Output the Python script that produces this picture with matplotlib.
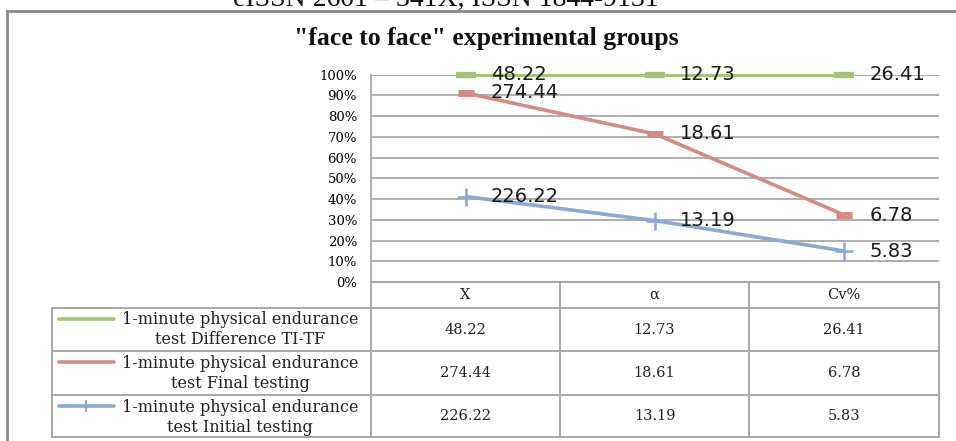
import numpy as np
import matplotlib
matplotlib.use("Agg")
import matplotlib.pyplot as plt
from matplotlib.lines import Line2D

# data
categories = ["X", "α", "Cv%"]
series_names = [
    "1-minute physical endurance\ntest Difference TI-TF",
    "1-minute physical endurance\ntest Final testing",
    "1-minute physical endurance\ntest Initial testing",
]
difference = [48.22, 12.73, 26.41]
final_testing = [274.44, 18.61, 6.78]
initial_testing = [226.22, 13.19, 5.83]
y_ticks = [0, 10, 20, 30, 40, 50, 60, 70, 80, 90, 100]

W, H = 956, 441
GREEN = "#A5C47A"
RED = "#D38A88"
BLUE = "#8DA7D6"
GRID = "#A8A8A8"


def fx(px):
    return px / W


def fy(py):
    return 1 - py / H


fig = plt.figure(figsize=(W / 100, H / 100), dpi=100)

# outer frame (page border)
frame = dict(color="#8A8A8A", lw=2.0, transform=fig.transFigure)
fig.add_artist(Line2D([fx(7), fx(7)], [fy(11), fy(445)], **frame))
fig.add_artist(Line2D([fx(7), fx(960)], [fy(11), fy(11)], **frame))

# cut-off journal header at top
fig.text(fx(446), fy(6), "eISSN 2601 – 341X, ISSN 1844-9131", ha="center", va="baseline",
         family="Liberation Serif", fontsize=20, color="#111111")

fig.text(fx(486), fy(45), "\"face to face\" experimental groups", ha="center", va="baseline",
         family="Liberation Serif", fontweight="bold", fontsize=18.5, color="#111111")

# stacked 100% lines
init = np.array(initial_testing)
fin = np.array(final_testing)
diff = np.array(difference)
total = init + fin + diff
blue_y = init / total
red_y = (init + fin) / total
green_y = (init + fin + diff) / total

ax = fig.add_axes([fx(371), fy(282), fx(939) - fx(371), (282 - 74.7) / H])
x = np.arange(len(categories))
ax.set_xlim(-0.5, len(categories) - 0.5)
ax.set_ylim(0, 1)

ax.plot(x, blue_y, color=BLUE, lw=2.6, marker="+", ms=13, mew=1.8, zorder=3,
        solid_capstyle="butt", clip_on=False)
ax.plot(x, red_y, color=RED, lw=2.6, marker="_", ms=12, mew=5, zorder=3,
        solid_capstyle="butt", clip_on=False)
ax.plot(x, green_y, color=GREEN, lw=2.2, marker="_", ms=15, mew=4.5, zorder=4,
        solid_capstyle="butt", clip_on=False)

for yy, vals in [(blue_y, initial_testing), (red_y, final_testing), (green_y, difference)]:
    for xi, yi, v in zip(x, yy, vals):
        ax.annotate(f"{v:.2f}", (xi, yi), xytext=(18, 0), textcoords="offset points",
                    ha="left", va="center", fontsize=14, family="DejaVu Sans", color="#1A1A1A",
                    zorder=5, annotation_clip=False)

ax.set_yticks(np.array(y_ticks) / 100)
ax.set_yticklabels([f"{t}%" for t in y_ticks], family="DejaVu Serif", fontsize=9.5)
ax.set_xticks([])
ax.yaxis.grid(True, color=GRID, lw=1.3)
ax.set_axisbelow(True)
ax.tick_params(axis="y", length=0, pad=10)
for side in ["top", "right"]:
    ax.spines[side].set_visible(False)
for side in ["left", "bottom"]:
    ax.spines[side].set_color(GRID)
    ax.spines[side].set_linewidth(1.3)

# data table below the chart
tbl = dict(color=GRID, lw=1.4, transform=fig.transFigure)
col_x = [52, 371, 560, 749, 939]
row_y = [282, 308, 351, 395, 437]
# header row (no label column)
fig.add_artist(Line2D([fx(371), fx(939)], [fy(282), fy(282)], **tbl))
for ry in row_y[1:]:
    fig.add_artist(Line2D([fx(52), fx(939)], [fy(ry), fy(ry)], **tbl))
for cx in col_x[1:]:
    fig.add_artist(Line2D([fx(cx), fx(cx)], [fy(282), fy(437)], **tbl))
fig.add_artist(Line2D([fx(52), fx(52)], [fy(308), fy(437)], **tbl))

for i, c in enumerate(categories):
    cx = (col_x[i + 1] + col_x[i + 2]) / 2
    fig.text(fx(cx), fy(295), c, ha="center", va="center", family="DejaVu Serif",
             fontsize=10.5, color="#222222")

rows = [difference, final_testing, initial_testing]
colors = [GREEN, RED, BLUE]
markers = [None, None, "|"]
for r, (vals, name, col, mk) in enumerate(zip(rows, series_names, colors, markers)):
    top, bot = row_y[r + 1], row_y[r + 2]
    cy = (top + bot) / 2
    for i, v in enumerate(vals):
        cx = (col_x[i + 1] + col_x[i + 2]) / 2
        fig.text(fx(cx), fy(cy), f"{v:.2f}", ha="center", va="center", family="DejaVu Serif",
                 fontsize=10.5, color="#222222")
    line1, line2 = name.split("\n")
    fig.text(fx(240), fy(top + 12), line1, ha="center", va="center", family="DejaVu Serif",
             fontsize=11.5, color="#222222")
    fig.text(fx(240), fy(top + 32), line2, ha="center", va="center", family="DejaVu Serif",
             fontsize=11.5, color="#222222")
    fig.add_artist(Line2D([fx(59), fx(114)], [fy(top + 11), fy(top + 11)], color=col, lw=2.6,
                          solid_capstyle="round", transform=fig.transFigure))
    if mk:
        fig.add_artist(Line2D([fx(86)], [fy(top + 11)], color=col, marker=mk, ms=8, mew=1.5,
                              transform=fig.transFigure))

fig.savefig("out.png", dpi=100, facecolor="white")
